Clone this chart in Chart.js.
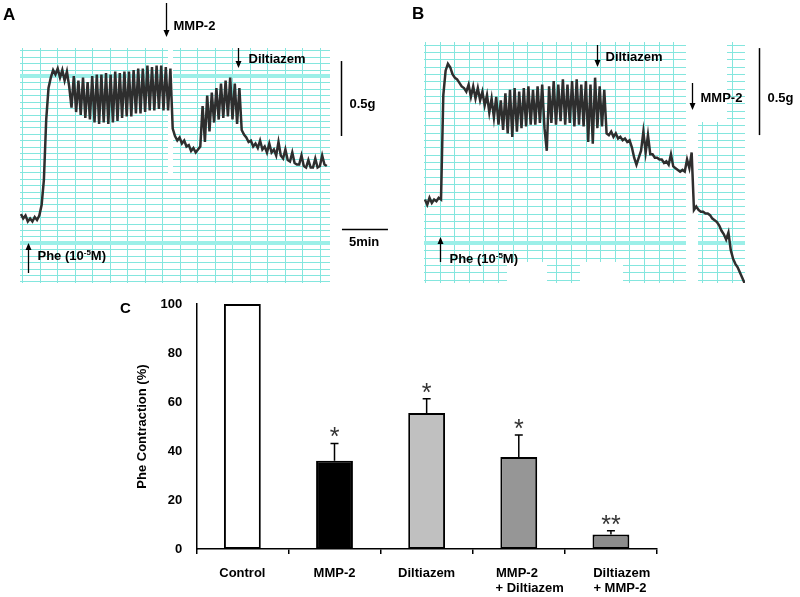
<!DOCTYPE html>
<html>
<head>
<meta charset="utf-8">
<script src="https://cdn.jsdelivr.net/npm/chart.js@4.4.1/dist/chart.umd.min.js"></script>
<style>
  body { margin: 0; background: #fff; overflow: hidden; }
  #wrap { position: relative; width: 800px; height: 597px; overflow: hidden; }
  canvas { position: absolute; }
</style>
</head>
<body>
<div id="wrap">
  <canvas id="traceA" width="400" height="290" style="left:0;top:0"></canvas>
  <canvas id="traceB" width="400" height="290" style="left:400px;top:0"></canvas>
  <canvas id="barChart" width="580" height="320" style="left:100px;top:290px"></canvas>
</div>
<script>
const stepMin = 0.25;

// panel A: tension (g)
const tensionA = [0.46,0.43,0.45,0.41,0.43,0.41,0.44,0.42,0.45,
  0.52,0.69,1.09,1.30,1.37,1.42,1.39,1.43,1.37,1.42,1.35,1.41,1.31,
  1.17,1.38,1.14,1.35,1.12,1.37,1.10,1.34,1.09,1.38,1.07,1.39,1.06,1.39,1.07,1.40,1.06,1.39,1.07,1.41,
  1.08,1.40,1.10,1.41,1.11,1.41,1.11,1.42,1.13,1.43,1.13,1.43,1.14,1.45,1.15,1.44,1.15,1.45,1.16,1.45,
  1.15,1.44,1.15,1.43,
  1.03,0.98,0.95,0.97,0.93,0.95,0.91,0.92,0.88,0.90,0.87,0.89,0.91,
  1.18,0.94,1.25,1.01,1.27,1.07,1.30,1.09,1.33,1.10,1.35,1.11,1.37,1.09,1.33,1.06,1.30,
  1.02,0.99,0.97,0.94,0.95,0.91,0.93,0.90,0.95,0.89,0.91,0.87,0.93,0.87,0.89,0.85,0.94,0.85,0.83,0.89,
  0.82,0.81,0.87,0.80,0.79,0.79,0.85,0.78,0.77,0.82,0.77,0.77,0.83,0.77,0.78,0.85,0.79,0.78];
const eventLabelsA = ['Phe', 'MMP-2', 'Diltiazem'];
const eventTimesA = [0.8, 15.8, 23.6];

// panel B: tension (g)
const tensionB = [0.48,0.45,0.49,0.46,0.48,0.47,0.49,0.48,
  1.08,1.22,1.26,1.24,1.20,1.18,1.17,1.15,1.13,1.12,1.10,1.14,1.07,1.13,1.06,1.12,1.05,1.10,1.02,1.08,
  0.98,1.06,0.95,1.07,0.91,1.05,0.88,1.09,0.86,1.11,0.84,1.12,0.87,1.10,0.89,1.12,0.90,1.13,0.91,1.11,
  0.91,1.13,0.92,1.14,0.89,0.76,1.13,0.92,1.16,0.91,1.14,0.93,1.17,0.91,1.14,0.92,1.16,0.90,1.17,0.91,
  1.14,0.90,1.16,0.81,1.14,0.80,1.18,0.89,1.13,0.90,1.11,
  0.86,0.85,0.87,0.84,0.86,0.83,0.84,0.82,0.83,0.81,0.82,0.78,0.72,0.68,0.72,0.76,0.87,0.75,0.85,0.74,
  0.74,0.72,0.72,0.71,0.71,0.69,0.70,0.68,0.74,0.67,0.66,0.65,0.64,0.65,0.64,0.71,0.66,0.75,
  0.42,0.44,0.42,0.41,0.41,0.40,0.40,0.39,0.37,0.36,0.35,0.33,0.30,0.28,0.25,0.29,0.19,0.14,0.11,0.09,
  0.06,0.03,0.00];
const eventLabelsB = ['Phe', 'Diltiazem', 'MMP-2'];
const eventTimesB = [1.6, 18.7, 29.0];

// panel C
const groups = ['Control', 'MMP-2', 'Diltiazem',
  ['      MMP-2       ', '      + Diltiazem'],
  ['      Diltiazem', '      + MMP-2 ']];
const contraction = [100, 36, 55.5, 37.6, 6];
const sem = [0, 7.1, 5.8, 9.0, 1.5];
const stars = ['', '*', '*', '*', '**'];
const barColors = ['#ffffff', '#000000', '#c0c0c0', '#969696', '#8c8c8c'];

const FONT = 'Arial, "Liberation Sans", sans-serif';

function paper(opts) {
  return {
    id: 'paper',
    beforeDatasetsDraw(chart) {
      const { ctx, chartArea: a } = chart;
      ctx.save();
      ctx.strokeStyle = '#84e6de';
      ctx.lineWidth = 1;
      for (let y = opts.yRef - Math.floor((opts.yRef - a.top) / opts.dy) * opts.dy; y <= a.bottom; y += opts.dy) {
        ctx.beginPath();
        ctx.moveTo(a.left, Math.round(y) + 0.5);
        ctx.lineTo(a.right, Math.round(y) + 0.5);
        ctx.stroke();
      }
      for (let x = opts.x0; x <= a.right; x += opts.dx) {
        ctx.beginPath();
        ctx.moveTo(Math.round(x) + 0.5, a.top);
        ctx.lineTo(Math.round(x) + 0.5, a.bottom);
        ctx.stroke();
      }
      ctx.strokeStyle = '#9cefe8';
      ctx.lineWidth = 4;
      opts.thick.forEach(y => {
        ctx.beginPath();
        ctx.moveTo(a.left, y);
        ctx.lineTo(a.right, y);
        ctx.stroke();
      });
      ctx.fillStyle = '#fff';
      opts.gaps.forEach(g => ctx.fillRect(g[0], g[1], g[2], g[3]));
      ctx.restore();
    }
  };
}

function arrow(ctx, x, y1, y2) {
  const dir = y2 > y1 ? 1 : -1;
  ctx.beginPath();
  ctx.moveTo(x, y1);
  ctx.lineTo(x, y2 - dir * 6);
  ctx.stroke();
  ctx.beginPath();
  ctx.moveTo(x - 3, y2 - dir * 7);
  ctx.lineTo(x + 3, y2 - dir * 7);
  ctx.lineTo(x, y2);
  ctx.closePath();
  ctx.fill();
}

function pheLabel(ctx, x, y) {
  ctx.font = 'bold 13px ' + FONT;
  ctx.fillText('Phe (10', x, y);
  let w = ctx.measureText('Phe (10').width;
  ctx.font = 'bold 8px ' + FONT;
  ctx.fillText('-5', x + w, y - 5);
  w += ctx.measureText('-5').width;
  ctx.font = 'bold 13px ' + FONT;
  ctx.fillText('M)', x + w, y);
}

function notes(opts) {
  return {
    id: 'notes',
    afterDraw(chart) {
      const { ctx, scales: { x, y } } = chart;
      ctx.save();
      ctx.fillStyle = '#000';
      ctx.strokeStyle = '#000';
      ctx.lineWidth = 1.3;
      ctx.font = 'bold 17px ' + FONT;
      ctx.fillText(opts.panel, opts.panelPos[0], opts.panelPos[1]);
      opts.labels.forEach((lab, i) => {
        const px = Math.round(x.getPixelForValue(opts.times[i])) + 0.5;
        const m = opts.marks[i];
        arrow(ctx, px, m[0], m[1]);
        if (lab === 'Phe') {
          pheLabel(ctx, px + m[2], m[3]);
        } else {
          ctx.font = 'bold 13px ' + FONT;
          ctx.fillText(lab, px + m[2], m[3]);
        }
      });
      // 0.5 g calibration bar
      ctx.lineWidth = 1.5;
      ctx.beginPath();
      ctx.moveTo(opts.barX, y.getPixelForValue(opts.barFrom));
      ctx.lineTo(opts.barX, y.getPixelForValue(opts.barFrom + 0.5));
      ctx.stroke();
      ctx.font = 'bold 13px ' + FONT;
      ctx.fillText('0.5g', opts.barX + 8, opts.barLabelY);
      if (opts.timeBar) {
        const [t0, py] = opts.timeBar;
        ctx.beginPath();
        ctx.moveTo(x.getPixelForValue(t0), py);
        ctx.lineTo(x.getPixelForValue(t0 + 5), py);
        ctx.stroke();
        ctx.fillText('5min', x.getPixelForValue(t0) + 7, py + 16);
      }
      ctx.restore();
    }
  };
}

function traceChart(id, values, xMax, yMax, pad, plugins) {
  return new Chart(document.getElementById(id), {
    type: 'line',
    data: {
      datasets: [{
        data: values.map((g, i) => ({ x: i * stepMin, y: g })),
        borderColor: '#2e2e2e',
        borderWidth: 2.5,
        pointRadius: 0,
        tension: 0
      }]
    },
    options: {
      responsive: false,
      animation: false,
      layout: { padding: pad },
      plugins: { legend: { display: false }, tooltip: { enabled: false } },
      scales: {
        x: { type: 'linear', display: false, min: -0.1, max: xMax },
        y: { display: false, min: 0, max: yMax }
      }
    },
    plugins: plugins
  });
}

const chartA = traceChart('traceA', tensionA, 33.6, 1.567,
  { left: 20, top: 48, right: 70, bottom: 7 },
  [paper({ dy: 6.42, yRef: 76, x0: 22, dx: 17.5, thick: [76, 243], gaps: [[168, 47, 5, 126]] }),
   notes({
     panel: 'A', panelPos: [3, 20],
     labels: eventLabelsA, times: eventTimesA,
     marks: [[273, 243, 9, 260], [3, 37, 7, 30], [48, 68, 10, 63]],
     barX: 341.5, barFrom: 0.98, barLabelY: 108,
     timeBar: [34.9, 229.5]
   })]);

const chartB = traceChart('traceB', tensionB, 34.8, 1.385,
  { left: 24, top: 42, right: 55, bottom: 7 },
  [paper({ dy: 7.35, yRef: 243, x0: 25, dx: 14.6, thick: [243],
           gaps: [[286, 42, 12, 241], [298, 42, 29, 80], [107, 262, 40, 22], [180, 262, 43, 22]] }),
   notes({
     panel: 'B', panelPos: [12, 19],
     labels: eventLabelsB, times: eventTimesB,
     marks: [[262, 237, 9, 263], [45, 67, 8, 61], [83, 110, 8, 102]],
     barX: 359.5, barFrom: 0.85, barLabelY: 102
   })]);

const errorBars = {
  id: 'errorBars',
  afterDatasetsDraw(chart) {
    const { ctx, scales: { y } } = chart;
    const meta = chart.getDatasetMeta(0);
    ctx.save();
    ctx.strokeStyle = '#000';
    ctx.fillStyle = '#333';
    ctx.lineWidth = 1.5;
    ctx.textAlign = 'center';
    ctx.font = '25px ' + FONT;
    meta.data.forEach((bar, i) => {
      const top = y.getPixelForValue(contraction[i] + sem[i]);
      if (sem[i] > 0) {
        ctx.beginPath();
        ctx.moveTo(bar.x, bar.y);
        ctx.lineTo(bar.x, top);
        ctx.moveTo(bar.x - 4, top);
        ctx.lineTo(bar.x + 4, top);
        ctx.stroke();
      }
      if (stars[i]) ctx.fillText(stars[i], bar.x, top + 2);
    });
    ctx.font = 'bold 15px ' + FONT;
    ctx.fillStyle = '#000';
    ctx.textAlign = 'left';
    ctx.fillText('C', 20, 23);
    ctx.restore();
  }
};

const tickFont = { family: FONT, size: 13, weight: 'bold', lineHeight: 1.15 };

const barChart = new Chart(document.getElementById('barChart'), {
  type: 'bar',
  data: {
    labels: groups,
    datasets: [{
      data: contraction,
      backgroundColor: barColors,
      borderColor: '#000',
      borderWidth: 2,
      borderSkipped: false,
      categoryPercentage: 1,
      barPercentage: 0.4
    }]
  },
  options: {
    responsive: false,
    animation: false,
    layout: { padding: { left: 35, top: 14, right: 23, bottom: 2 } },
    plugins: { legend: { display: false }, tooltip: { enabled: false } },
    scales: {
      x: {
        grid: { display: true, drawOnChartArea: false, drawTicks: true, tickLength: 5, color: '#000', lineWidth: 1.5 },
        border: { display: true, color: '#000', width: 1.5 },
        ticks: { color: '#000', font: tickFont, padding: 12, maxRotation: 0, autoSkip: false }
      },
      y: {
        min: 0,
        max: 100,
        grid: { display: false },
        border: { display: true, color: '#000', width: 1.5 },
        ticks: { stepSize: 20, color: '#000', font: tickFont, padding: 6 },
        title: { display: true, text: 'Phe Contraction (%)', color: '#000',
                 font: { family: FONT, size: 13, weight: 'bold' }, padding: { top: 0, bottom: 4 } }
      }
    }
  },
  plugins: [errorBars]
});
</script>
</body>
</html>
